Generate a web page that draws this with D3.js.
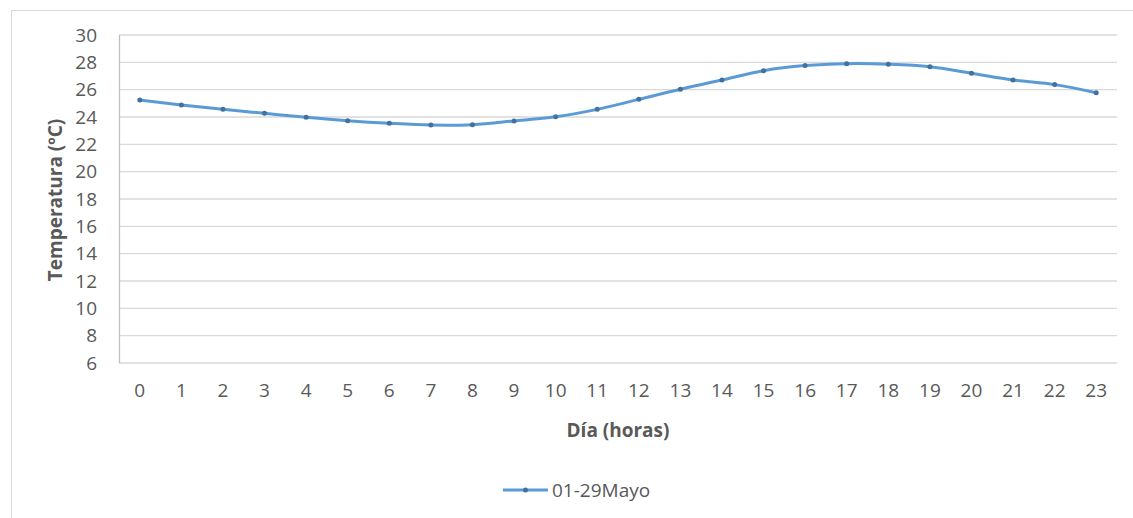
<!DOCTYPE html>
<meta charset="utf-8">
<style>
  body { margin: 0; background: #fff; }
  text { font-family: "Open Sans", sans-serif; fill: #595959; }
  .grid line { stroke: #d9d9d9; stroke-width: 1.3; }
  .axis path, .axis line { display: none; }
</style>
<body>
<script src="https://d3js.org/d3.v7.min.js"></script>
<script>
// hours of the day
var hours = d3.range(0, 24).map(String);
// mean temperature, 1-29 May
var temps = [25.24, 24.88, 24.56, 24.27, 23.98, 23.73, 23.54, 23.41, 23.44, 23.71,
             24.02, 24.56, 25.29, 26.03, 26.71, 27.39, 27.76, 27.9, 27.86, 27.68,
             27.2, 26.71, 26.37, 25.78];
var yTicks = [6, 8, 10, 12, 14, 16, 18, 20, 22, 24, 26, 28, 30];
var seriesName = "01-29Mayo";

var width = 1133, height = 518;
var margin = {top: 35, right: 16, bottom: 155, left: 119};

var svg = d3.select("body").append("svg")
    .attr("width", width)
    .attr("height", height);

// chart frame
svg.append("rect")
    .attr("x", 11.5).attr("y", 10.5)
    .attr("width", width).attr("height", height)
    .attr("fill", "none")
    .attr("stroke", "#d9d9d9");

var x = d3.scaleBand()
    .domain(hours)
    .range([margin.left, width - margin.right]);

var y = d3.scaleLinear()
    .domain([6, 30])
    .range([height - margin.bottom, margin.top]);

// gridlines
svg.append("g")
    .attr("class", "grid")
    .selectAll("line")
    .data(yTicks)
  .enter().append("line")
    .attr("x1", margin.left)
    .attr("x2", width - margin.right)
    .attr("y1", function(d) { return y(d); })
    .attr("y2", function(d) { return y(d); });

// left axis line
svg.append("line")
    .attr("x1", margin.left + 0.5).attr("x2", margin.left + 0.5)
    .attr("y1", y(30)).attr("y2", y(6))
    .attr("stroke", "#bfbfbf").attr("stroke-width", 1.3);

var yAxis = svg.append("g")
    .attr("class", "axis")
    .attr("transform", "translate(" + (margin.left - 22) + ",0)")
    .call(d3.axisLeft(y).tickValues(yTicks).tickSize(0).tickPadding(0));
yAxis.selectAll("text").style("font-size", "19px");

var xAxis = svg.append("g")
    .attr("class", "axis")
    .attr("transform", "translate(0," + (y(6) + 20) + ")")
    .call(d3.axisBottom(x).tickSize(0).tickPadding(0));
xAxis.selectAll("text").style("font-size", "19px");

// axis titles
svg.append("text")
    .attr("x", x("11") + x.bandwidth())
    .attr("y", 437)
    .attr("text-anchor", "middle")
    .style("font-size", "19px")
    .style("font-weight", "bold")
    .text("Día (horas)");

svg.append("text")
    .attr("transform", "translate(62," + (y(18) + 1) + ") rotate(-90)")
    .attr("text-anchor", "middle")
    .style("font-size", "19px")
    .style("font-weight", "bold")
    .text("Temperatura (ºC)");

// series
var line = d3.line()
    .x(function(d, i) { return x(hours[i]) + x.bandwidth() / 2; })
    .y(function(d) { return y(d); })
    .curve(d3.curveCatmullRom.alpha(0.5));

svg.append("path")
    .datum(temps)
    .attr("d", line)
    .attr("fill", "none")
    .attr("stroke", "#5b9bd5")
    .attr("stroke-width", 3);

svg.append("g")
    .selectAll("circle")
    .data(temps)
  .enter().append("circle")
    .attr("cx", function(d, i) { return x(hours[i]) + x.bandwidth() / 2; })
    .attr("cy", function(d) { return y(d); })
    .attr("r", 2.5)
    .attr("fill", "#41719c");

// legend
var lg = svg.append("g").attr("transform", "translate(503,490)");
lg.append("line")
    .attr("x1", 0).attr("x2", 45)
    .attr("stroke", "#5b9bd5").attr("stroke-width", 3);
lg.append("circle").attr("cx", 22.5).attr("r", 2.5).attr("fill", "#41719c");
lg.append("text")
    .attr("x", 49).attr("dy", "0.35em")
    .style("font-size", "19px")
    .text(seriesName);
</script>
</body>
